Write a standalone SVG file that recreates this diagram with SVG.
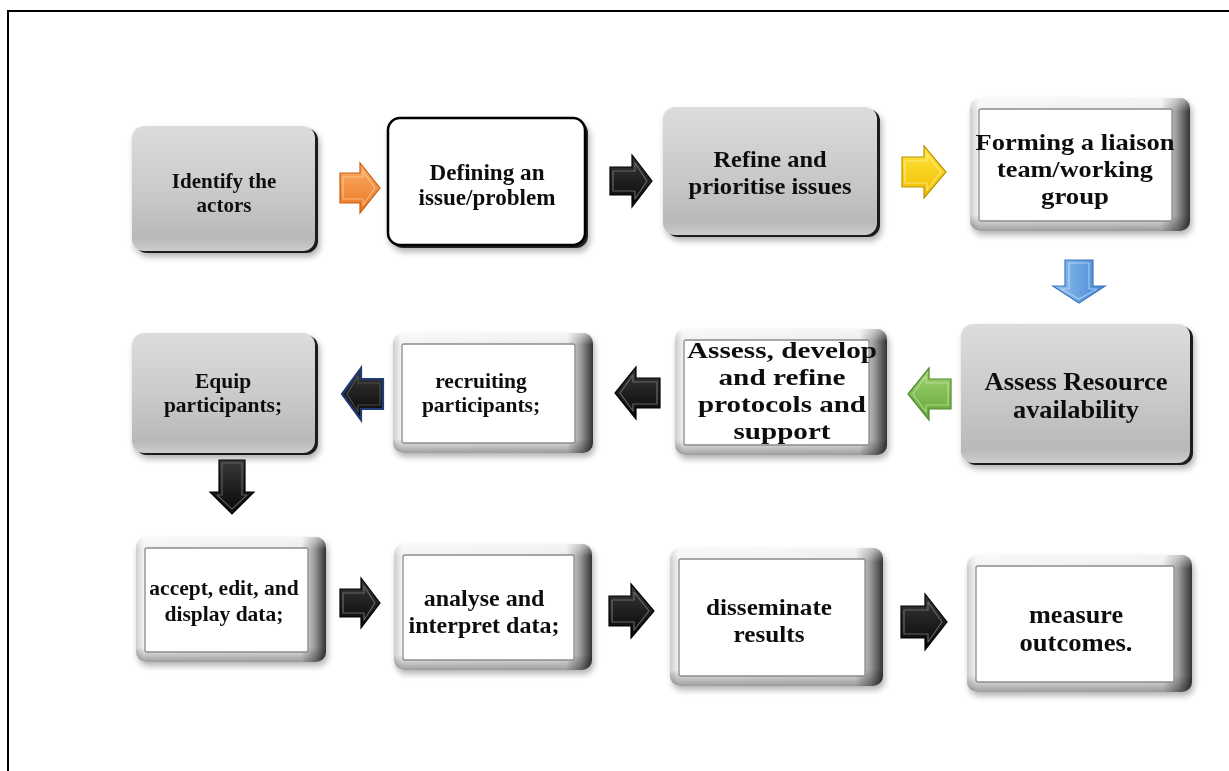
<svg xmlns="http://www.w3.org/2000/svg" width="1229" height="771" viewBox="0 0 1229 771">
<style>
.t{font-family:"Liberation Serif","Times New Roman",serif;font-weight:bold;fill:#111;text-anchor:middle}
.edge{fill:#1a1a1a}
.gface{fill:url(#gGray)}
.fo{fill:url(#gFrameH)}
.fv{fill:url(#gFrameV)}
.fi{fill:#fff;stroke:#8c8c8c;stroke-width:1.3}
.bev{fill:none;stroke-width:1.2;stroke-linejoin:round}
</style>
<defs>
<linearGradient id="gGray" x1="0" y1="0" x2="0" y2="1">
<stop offset="0" stop-color="#dcdcdc"/>
<stop offset="0.5" stop-color="#cbcbcb"/>
<stop offset="0.9" stop-color="#b9b9b9"/>
<stop offset="1" stop-color="#cdcdcd"/>
</linearGradient>
<linearGradient id="gFrameH" x1="0" y1="0" x2="1" y2="0">
<stop offset="0" stop-color="#cdcdcd"/>
<stop offset="0.04" stop-color="#f3f3f3"/>
<stop offset="0.87" stop-color="#ececec"/>
<stop offset="0.94" stop-color="#9a9a9a"/>
<stop offset="1" stop-color="#333"/>
</linearGradient>
<linearGradient id="gFrameV" x1="0" y1="0" x2="0" y2="1">
<stop offset="0" stop-color="#fff" stop-opacity="0.5"/>
<stop offset="0.1" stop-color="#fff" stop-opacity="0"/>
<stop offset="0.88" stop-color="#000" stop-opacity="0"/>
<stop offset="1" stop-color="#000" stop-opacity="0.35"/>
</linearGradient>
<linearGradient id="aOr" x1="0" y1="0" x2="0" y2="1"><stop offset="0" stop-color="#fbb06a"/><stop offset="1" stop-color="#ea7420"/></linearGradient>
<linearGradient id="aYe" x1="0" y1="0" x2="0" y2="1"><stop offset="0" stop-color="#ffe640"/><stop offset="1" stop-color="#efbc00"/></linearGradient>
<linearGradient id="aBl" x1="0" y1="0" x2="1" y2="0"><stop offset="0" stop-color="#93c1ee"/><stop offset="1" stop-color="#4285d2"/></linearGradient>
<linearGradient id="aGr" x1="0" y1="0" x2="0" y2="1"><stop offset="0" stop-color="#a2d474"/><stop offset="1" stop-color="#62a535"/></linearGradient>
<linearGradient id="aBk" x1="0" y1="0" x2="0" y2="1"><stop offset="0" stop-color="#3a3a3a"/><stop offset="1" stop-color="#050505"/></linearGradient>
<filter id="sh" x="-10%" y="-10%" width="130%" height="140%">
<feGaussianBlur in="SourceAlpha" stdDeviation="3"/>
<feOffset dx="2" dy="4"/>
<feComponentTransfer><feFuncA type="linear" slope="0.3"/></feComponentTransfer>
<feMerge><feMergeNode/><feMergeNode in="SourceGraphic"/></feMerge>
</filter>
</defs>
<rect width="1229" height="771" fill="#fff"/>
<path d="M8,771 V11 H1229" fill="none" stroke="#000" stroke-width="2"/>

<g id="n1" filter="url(#sh)">
<rect class="edge" x="135" y="128" width="183" height="125" rx="12"/>
<rect class="gface" x="132" y="126" width="183" height="125" rx="12"/>
<text class="t" font-size="21" x="224" y="188">Identify the</text>
<text class="t" font-size="21" x="224" y="212">actors</text>
</g>
<g id="n2" filter="url(#sh)">
<rect x="391" y="121" width="197" height="127" rx="12" fill="#222"/>
<rect x="388" y="118" width="197" height="127" rx="12" fill="#fff" stroke="#000" stroke-width="2.5"/>
<text class="t" font-size="22.5" x="487" y="180" textLength="115" lengthAdjust="spacingAndGlyphs">Defining an</text>
<text class="t" font-size="22.5" x="487" y="205" textLength="137" lengthAdjust="spacingAndGlyphs">issue/problem</text>
</g>
<g id="n3" filter="url(#sh)">
<rect class="edge" x="666" y="109" width="214" height="128" rx="12"/>
<rect class="gface" x="663" y="107" width="214" height="128" rx="12"/>
<text class="t" font-size="24" x="770" y="167" textLength="113" lengthAdjust="spacingAndGlyphs">Refine and</text>
<text class="t" font-size="24" x="770" y="194" textLength="163" lengthAdjust="spacingAndGlyphs">prioritise issues</text>
</g>
<g id="n4" filter="url(#sh)">
<rect class="fo" x="970" y="98" width="220" height="133" rx="10"/>
<rect class="fv" x="970" y="98" width="220" height="133" rx="10"/>
<rect class="fi" x="979" y="109" width="193" height="112" rx="2"/>
<text class="t" font-size="24" x="1075" y="150" textLength="199" lengthAdjust="spacingAndGlyphs">Forming a liaison</text>
<text class="t" font-size="24" x="1075" y="177" textLength="156" lengthAdjust="spacingAndGlyphs">team/working</text>
<text class="t" font-size="24" x="1075" y="204" textLength="68" lengthAdjust="spacingAndGlyphs">group</text>
</g>
<g id="n5" filter="url(#sh)">
<rect class="edge" x="964" y="326" width="229" height="139" rx="12"/>
<rect class="gface" x="961" y="324" width="229" height="139" rx="12"/>
<text class="t" font-size="25" x="1076" y="390" textLength="183" lengthAdjust="spacingAndGlyphs">Assess Resource</text>
<text class="t" font-size="25" x="1076" y="418" textLength="126" lengthAdjust="spacingAndGlyphs">availability</text>
</g>
<g id="n6" filter="url(#sh)">
<rect class="fo" x="675" y="329" width="212" height="126" rx="10"/>
<rect class="fv" x="675" y="329" width="212" height="126" rx="10"/>
<rect class="fi" x="684" y="340" width="185" height="105" rx="2"/>
<text class="t" font-size="24" x="782" y="358" textLength="190" lengthAdjust="spacingAndGlyphs">Assess, develop</text>
<text class="t" font-size="24" x="782" y="385" textLength="127" lengthAdjust="spacingAndGlyphs">and refine</text>
<text class="t" font-size="24" x="782" y="412" textLength="168" lengthAdjust="spacingAndGlyphs">protocols and</text>
<text class="t" font-size="24" x="782" y="439" textLength="97" lengthAdjust="spacingAndGlyphs">support</text>
</g>
<g id="n7" filter="url(#sh)">
<rect class="fo" x="393" y="333" width="200" height="120" rx="10"/>
<rect class="fv" x="393" y="333" width="200" height="120" rx="10"/>
<rect class="fi" x="402" y="344" width="173" height="99" rx="2"/>
<text class="t" font-size="21.5" x="481" y="388">recruiting</text>
<text class="t" font-size="21.5" x="481" y="412">participants;</text>
</g>
<g id="n8" filter="url(#sh)">
<rect class="edge" x="135" y="335" width="183" height="120" rx="12"/>
<rect class="gface" x="132" y="333" width="183" height="120" rx="12"/>
<text class="t" font-size="21.5" x="223" y="388">Equip</text>
<text class="t" font-size="21.5" x="223" y="412">participants;</text>
</g>
<g id="n9" filter="url(#sh)">
<rect class="fo" x="136" y="537" width="190" height="125" rx="10"/>
<rect class="fv" x="136" y="537" width="190" height="125" rx="10"/>
<rect class="fi" x="145" y="548" width="163" height="104" rx="2"/>
<text class="t" font-size="21.5" x="224" y="595">accept, edit, and</text>
<text class="t" font-size="21.5" x="224" y="621">display data;</text>
</g>
<g id="n10" filter="url(#sh)">
<rect class="fo" x="394" y="544" width="198" height="126" rx="10"/>
<rect class="fv" x="394" y="544" width="198" height="126" rx="10"/>
<rect class="fi" x="403" y="555" width="171" height="105" rx="2"/>
<text class="t" font-size="24" x="484" y="606">analyse and</text>
<text class="t" font-size="24" x="484" y="633">interpret data;</text>
</g>
<g id="n11" filter="url(#sh)">
<rect class="fo" x="670" y="548" width="213" height="138" rx="10"/>
<rect class="fv" x="670" y="548" width="213" height="138" rx="10"/>
<rect class="fi" x="679" y="559" width="186" height="117" rx="2"/>
<text class="t" font-size="24" x="769" y="615" textLength="126" lengthAdjust="spacingAndGlyphs">disseminate</text>
<text class="t" font-size="24" x="769" y="642" textLength="71" lengthAdjust="spacingAndGlyphs">results</text>
</g>
<g id="n12" filter="url(#sh)">
<rect class="fo" x="967" y="555" width="225" height="137" rx="10"/>
<rect class="fv" x="967" y="555" width="225" height="137" rx="10"/>
<rect class="fi" x="976" y="566" width="198" height="116" rx="2"/>
<text class="t" font-size="25" x="1076" y="623" textLength="94" lengthAdjust="spacingAndGlyphs">measure</text>
<text class="t" font-size="25" x="1076" y="651" textLength="113" lengthAdjust="spacingAndGlyphs">outcomes.</text>
</g>

<g id="connectors">
<polygon points="340,173 360,173 360,163 380,188 360,213 360,203 340,203" fill="url(#aOr)" stroke="#c85e14" stroke-width="1.2"/>
<polygon class="bev" points="343,177 363,177 363,171 375,188 363,205 363,199 343,199" stroke="#ffd0a0" opacity="0.7"/>
<polygon points="610,167 632,167 632,155 652,181 632,207 632,195 610,195" fill="url(#aBk)" stroke="#000" stroke-width="1.2"/>
<polygon class="bev" points="613,171 635,171 635,163 647,181 635,199 635,191 613,191" stroke="#777" opacity="0.8"/>
<polygon points="902,157 924,157 924,146 946,172 924,198 924,187 902,187" fill="url(#aYe)" stroke="#c09400" stroke-width="1.2"/>
<polygon class="bev" points="905,161 927,161 927,154 941,172 927,190 927,183 905,183" stroke="#fff3a0" opacity="0.7"/>
<polygon points="1065,260 1093,260 1093,286 1105,286 1079,303 1053,286 1065,286" fill="url(#aBl)" stroke="#3a78c0" stroke-width="1.2"/>
<polygon class="bev" points="1069,263 1089,263 1089,289 1097,289 1079,299 1061,289 1069,289" stroke="#d4e8fa" opacity="0.6"/>
<polygon points="951,379 929,379 929,368 908,394 929,420 929,409 951,409" fill="url(#aGr)" stroke="#4f8a2a" stroke-width="1.2"/>
<polygon class="bev" points="948,383 926,383 926,376 913,394 926,412 926,405 948,405" stroke="#d2efb8" opacity="0.6"/>
<polygon points="660,378 636,378 636,367 615,393 636,419 636,408 660,408" fill="url(#aBk)" stroke="#000" stroke-width="1.2"/>
<polygon class="bev" points="657,382 633,382 633,375 620,393 633,411 633,404 657,404" stroke="#777" opacity="0.8"/>
<polygon points="383,379 361,379 361,368 342,394 361,420 361,409 383,409" fill="url(#aBk)" stroke="#1f3b73" stroke-width="2.2"/>
<polygon class="bev" points="380,383 358,383 358,376 347,394 358,412 358,405 380,405" stroke="#555" opacity="0.8"/>
<polygon points="219,460 245,460 245,492 254,492 232,514 210,492 219,492" fill="url(#aBk)" stroke="#000" stroke-width="1.2"/>
<polygon class="bev" points="222,463 242,463 242,495 247,495 232,509 217,495 222,495" stroke="#666" opacity="0.8"/>
<polygon points="340,589 361,589 361,578 380,603 361,628 361,617 340,617" fill="url(#aBk)" stroke="#000" stroke-width="1.2"/>
<polygon class="bev" points="343,593 364,593 364,586 375,603 364,620 364,613 343,613" stroke="#777" opacity="0.8"/>
<polygon points="609,596 631,596 631,584 654,611 631,638 631,626 609,626" fill="url(#aBk)" stroke="#000" stroke-width="1.2"/>
<polygon class="bev" points="612,600 634,600 634,592 649,611 634,630 634,622 612,622" stroke="#777" opacity="0.8"/>
<polygon points="901,606 925,606 925,594 947,622 925,650 925,638 901,638" fill="url(#aBk)" stroke="#000" stroke-width="1.2"/>
<polygon class="bev" points="904,610 928,610 928,602 942,622 928,642 928,634 904,634" stroke="#777" opacity="0.8"/>
</g>
</svg>
